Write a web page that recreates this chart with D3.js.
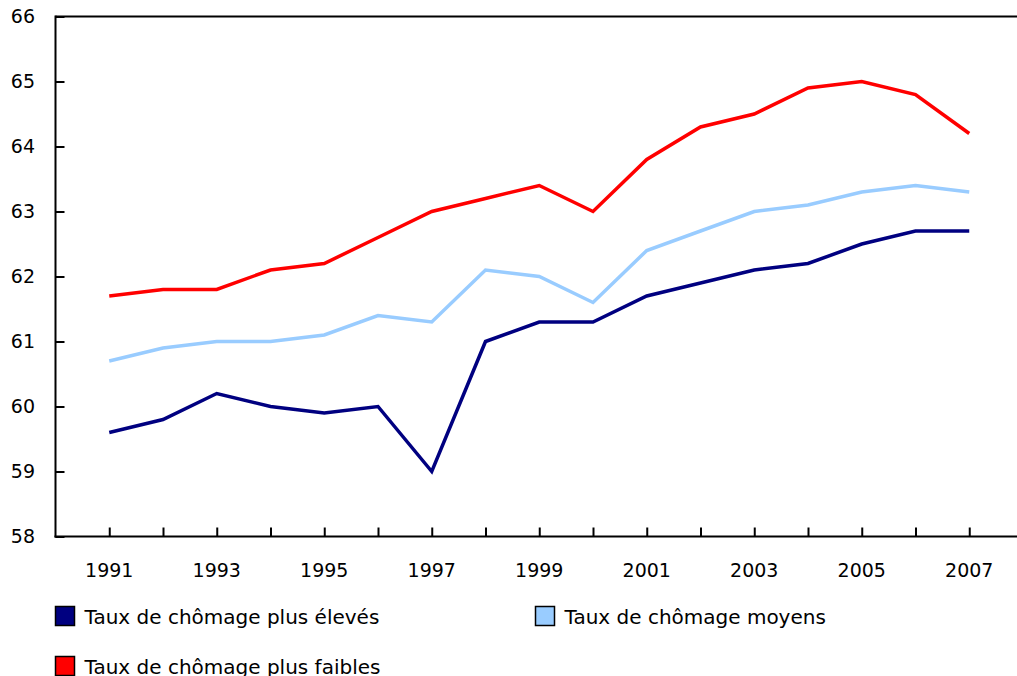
<html>
<head>
    <title>Taux de chômage</title>
    <script src="https://d3js.org/d3.v7.min.js"></script>
    <style>
        body { margin: 0; background: #fff; }
        text { font-family: Verdana, "DejaVu Sans", sans-serif; font-size: 19px; fill: #000; }
        .leg text { font-size: 20px; }
    </style>
</head>
<body>
<script>
    // data
    var years = [1991, 1992, 1993, 1994, 1995, 1996, 1997, 1998, 1999, 2000, 2001, 2002, 2003, 2004, 2005, 2006, 2007];
    var eleves = [59.6, 59.8, 60.2, 60.0, 59.9, 60.0, 59.0, 61.0, 61.3, 61.3, 61.7, 61.9, 62.1, 62.2, 62.5, 62.7, 62.7];
    var moyens = [60.7, 60.9, 61.0, 61.0, 61.1, 61.4, 61.3, 62.1, 62.0, 61.6, 62.4, 62.7, 63.0, 63.1, 63.3, 63.4, 63.3];
    var faibles = [61.7, 61.8, 61.8, 62.1, 62.2, 62.6, 63.0, 63.2, 63.4, 63.0, 63.8, 64.3, 64.5, 64.9, 65.0, 64.8, 64.2];
    var seriesNames = ["Taux de chômage plus élevés", "Taux de chômage moyens", "Taux de chômage plus faibles"];
    var yTicks = [58, 59, 60, 61, 62, 63, 64, 65, 66];

    var colors = ["#000080", "#99ccff", "#ff0000"];
    var allSeries = [eleves, moyens, faibles];

    var width = 1017, height = 676;
    var mLeft = 55.5, mTop = 16.5, mBottom = 536.5;

    var svg = d3.select("body").append("svg")
        .attr("width", width)
        .attr("height", height);

    var x = d3.scaleLinear().domain([1990, 2008]).range([mLeft, mLeft + 18 * 53.75]);
    var y = d3.scaleLinear().domain([58, 66]).range([mBottom, mTop]);

    // top frame line
    svg.append("line")
        .attr("x1", mLeft).attr("x2", width)
        .attr("y1", mTop).attr("y2", mTop)
        .attr("stroke", "#000").attr("stroke-width", 2);

    // y axis
    var yAxis = svg.append("g")
        .attr("transform", "translate(" + mLeft + ",0)")
        .call(d3.axisRight(y).tickValues(yTicks).tickSize(9).tickFormat(""));
    yAxis.select(".domain").remove();
    yAxis.selectAll("line").attr("stroke", "#000").attr("stroke-width", 2);
    svg.append("line")
        .attr("x1", mLeft).attr("x2", mLeft)
        .attr("y1", mTop - 1).attr("y2", mBottom + 1)
        .attr("stroke", "#000").attr("stroke-width", 2);
    svg.selectAll(".ylab").data(yTicks).enter().append("text")
        .attr("class", "ylab")
        .attr("x", 35)
        .attr("y", function(d) { return y(d); })
        .attr("dy", "0.35em")
        .attr("text-anchor", "end")
        .text(function(d) { return d; });

    // x axis
    var xAxis = svg.append("g")
        .attr("transform", "translate(0," + mBottom + ")")
        .call(d3.axisTop(x).tickValues(years).tickSize(9).tickFormat(""));
    xAxis.select(".domain").remove();
    xAxis.selectAll("line").attr("stroke", "#000").attr("stroke-width", 2);
    svg.append("line")
        .attr("x1", mLeft - 1).attr("x2", width)
        .attr("y1", mBottom).attr("y2", mBottom)
        .attr("stroke", "#000").attr("stroke-width", 2);
    svg.selectAll(".xlab").data(years.filter(function(d) { return d % 2 == 1; })).enter().append("text")
        .attr("class", "xlab")
        .attr("x", function(d) { return x(d); })
        .attr("y", 577)
        .attr("text-anchor", "middle")
        .text(function(d) { return d; });

    // lines
    var line = d3.line()
        .x(function(d, i) { return x(years[i]); })
        .y(function(d) { return y(d); });

    svg.selectAll(".serie").data(allSeries).enter().append("path")
        .attr("class", "serie")
        .attr("d", line)
        .attr("fill", "none")
        .attr("stroke", function(d, i) { return colors[i]; })
        .attr("stroke-width", 3.5)
        .attr("stroke-linejoin", "miter");

    // legend
    var legPos = [[55.5, 606.5], [535.5, 606.5], [55.5, 656.5]];
    var leg = svg.selectAll(".leg").data(seriesNames).enter().append("g")
        .attr("class", "leg")
        .attr("transform", function(d, i) { return "translate(" + legPos[i][0] + "," + legPos[i][1] + ")"; });
    leg.append("rect")
        .attr("width", 19).attr("height", 19)
        .attr("fill", function(d, i) { return colors[i]; })
        .attr("stroke", "#000").attr("stroke-width", 1.5);
    leg.append("text")
        .attr("x", 29)
        .attr("y", 17)
        .text(function(d) { return d; });
</script>
</body>
</html>
